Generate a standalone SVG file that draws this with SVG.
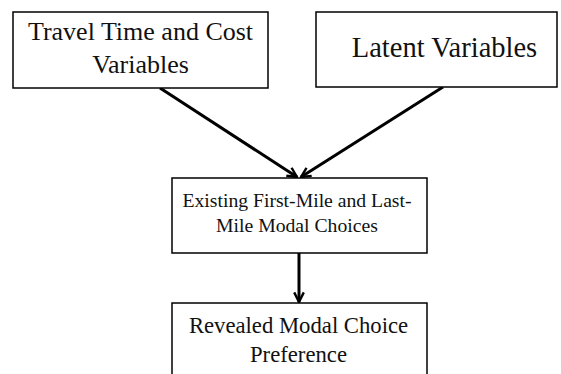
<svg xmlns="http://www.w3.org/2000/svg" width="561" height="374" viewBox="0 0 561 374">
<defs>
<style>
.box{fill:#fff;stroke:#000;stroke-width:1.5}
.t{font-family:"Liberation Serif","Times New Roman",serif;fill:#111;text-anchor:middle}
.c{stroke:#000;stroke-width:3;fill:none;marker-end:url(#ah)}
</style>
<marker id="ah" viewBox="0 0 10 10" refX="9" refY="5" markerWidth="4" markerHeight="4" orient="auto" markerUnits="strokeWidth">
<path d="M1,1 L9,5 L1,9" fill="none" stroke="#000" stroke-width="2"/>
</marker>
</defs>
<rect width="561" height="374" fill="#fff"/>
<g id="connectors">
<line class="c" x1="160" y1="88" x2="297" y2="177"/>
<line class="c" x1="443" y1="87" x2="301" y2="177"/>
<line class="c" x1="299" y1="253" x2="299" y2="302"/>
</g>
<g id="n1">
<rect class="box" x="13" y="12" width="255" height="76"/>
<text class="t" x="140.5" y="40" font-size="26">Travel Time and Cost</text>
<text class="t" x="140.5" y="73" font-size="26">Variables</text>
</g>
<g id="n2">
<rect class="box" x="316" y="12" width="241" height="75"/>
<text class="t" x="444.5" y="57" font-size="28.5">Latent Variables</text>
</g>
<g id="n3">
<rect class="box" x="172" y="178" width="255" height="75"/>
<text class="t" x="297" y="207" font-size="19.7">Existing First-Mile and Last-</text>
<text class="t" x="297" y="232" font-size="19.7">Mile Modal Choices</text>
</g>
<g id="n4">
<rect class="box" x="172" y="303" width="255" height="80"/>
<text class="t" x="298.5" y="333" font-size="22.7">Revealed Modal Choice</text>
<text class="t" x="298.5" y="362" font-size="22.7">Preference</text>
</g>
</svg>
